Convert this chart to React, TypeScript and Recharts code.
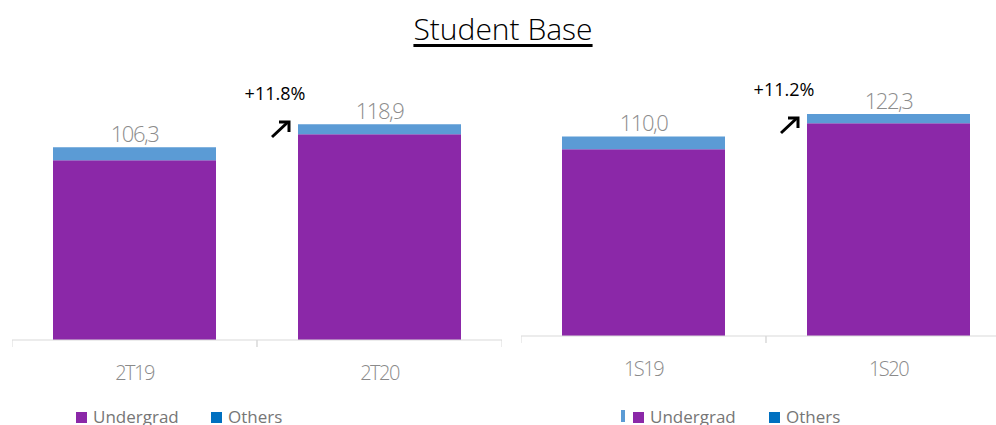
import { BarChart, Bar, XAxis, YAxis, LabelList } from "recharts";

const leftCategories = ["2T19", "2T20"];
const leftUndergrad = [99.1, 113.4];
const leftOthers = [7.2, 5.5];
const leftTotals = [106.3, 118.9];
const leftGrowth = "+11.8%";

const rightCategories = ["1S19", "1S20"];
const rightUndergrad = [102.9, 117.2];
const rightOthers = [7.1, 5.1];
const rightTotals = [110.0, 122.3];
const rightGrowth = "+11.2%";

const PURPLE = "#8B28A8";
const LIGHT_BLUE = "#5B9BD5";
const LEGEND_BLUE = "#0070C0";
const FONT = "'Open Sans', 'Noto Sans', sans-serif";

const fmt = (v: number) => v.toFixed(1).replace(".", ",");

function CatTick(props: any) {
  const { x, y, payload } = props;
  const off = payload?.offset ?? 122.5;
  return (
    <g>
      <line x1={x - off} x2={x - off} y1={y} y2={y + 7} stroke="#d9d9d9" />
      <line x1={x + off} x2={x + off} y1={y} y2={y + 7} stroke="#d9d9d9" />
      <text x={x} y={y + 40} textAnchor="middle" fontSize={20} fontWeight={300} fill="#8a8a8a" fontFamily={FONT} letterSpacing={-1.5}>
        {payload.value}
      </text>
    </g>
  );
}

function Panel({ categories, undergrad, others, totals, growth, left, top }: any) {
  const data = categories.map((c: string, i: number) => ({
    cat: c,
    undergrad: undergrad[i],
    others: others[i],
    total: totals[i],
  }));

  const totalLabel = (p: any) => {
    const { x, y, width, index } = p;
    return (
      <text x={x + width / 2} y={y - 5} textAnchor="middle" fontSize={22} fontWeight={300} fill="#8c8c8c" fontFamily={FONT} letterSpacing={-1.5}>
        {fmt(totals[index])}
      </text>
    );
  };

  const growthLabel = (p: any) => {
    const { x, index } = p;
    if (index !== 1) return null;
    const ax = x - 26;
    return (
      <g>
        <text x={x - 23} y={64} textAnchor="middle" fontSize={18} fill="#000" fontFamily={FONT}>
          {growth}
        </text>
        <path d={`M ${ax} ${101} L ${ax + 16} ${86}`} stroke="#000" strokeWidth={3} fill="none" />
        <path d={`M ${ax + 7} ${86} L ${ax + 17} ${86} L ${ax + 17} ${96}`} stroke="#000" strokeWidth={3} fill="none" />
      </g>
    );
  };

  return (
    <div style={{ position: "absolute", left, top }}>
      <BarChart width={490} height={364} data={data} margin={{ top: 50, right: 0, bottom: 0, left: 0 }}>
        <XAxis
          dataKey="cat"
          axisLine={{ stroke: "#d9d9d9" }}
          tickLine={false}
          tickSize={0}
          tickMargin={0}
          interval={0}
          height={60}
          tick={<CatTick />}
        />
        <YAxis hide domain={[0, 140]} />
        <Bar dataKey="undergrad" stackId="a" fill={PURPLE} barSize={163} isAnimationActive={false} />
        <Bar dataKey="others" stackId="a" fill={LIGHT_BLUE} barSize={163} isAnimationActive={false}>
          <LabelList dataKey="total" content={totalLabel} />
          <LabelList dataKey="total" content={growthLabel} />
        </Bar>
      </BarChart>
    </div>
  );
}

function LegendItem({ color, label, x }: any) {
  return (
    <div style={{ position: "absolute", left: x, top: 0, display: "flex", alignItems: "center" }}>
      <div style={{ width: 11, height: 11, background: color, marginRight: 6 }} />
      <span style={{ fontSize: 17, color: "#767676", fontFamily: FONT, lineHeight: "20px" }}>{label}</span>
    </div>
  );
}

export default function App() {
  return (
    <div
      style={{
        position: "fixed",
        left: 0,
        top: 0,
        width: 996,
        height: 425,
        overflow: "hidden",
        background: "#fff",
      }}
    >
      <div
        style={{
          position: "absolute",
          left: 0,
          width: 1006,
          top: 8,
          textAlign: "center",
          fontSize: 30,
          fontWeight: 300,
          fontFamily: FONT,
          textDecoration: "underline",
          textUnderlineOffset: 4,
          color: "#000",
        }}
      >
        Student Base
      </div>

      <Panel
        categories={leftCategories}
        undergrad={leftUndergrad}
        others={leftOthers}
        totals={leftTotals}
        growth={leftGrowth}
        left={12}
        top={36}
      />
      <Panel
        categories={rightCategories}
        undergrad={rightUndergrad}
        others={rightOthers}
        totals={rightTotals}
        growth={rightGrowth}
        left={521}
        top={32}
      />

      <div style={{ position: "absolute", left: 0, top: 407, width: 996, height: 20 }}>
        <LegendItem color={PURPLE} label="Undergrad" x={76} />
        <LegendItem color={LEGEND_BLUE} label="Others" x={211} />
        <div style={{ position: "absolute", left: 621, top: 3, width: 4, height: 12, background: LIGHT_BLUE }} />
        <LegendItem color={PURPLE} label="Undergrad" x={633} />
        <LegendItem color={LEGEND_BLUE} label="Others" x={769} />
      </div>
    </div>
  );
}
